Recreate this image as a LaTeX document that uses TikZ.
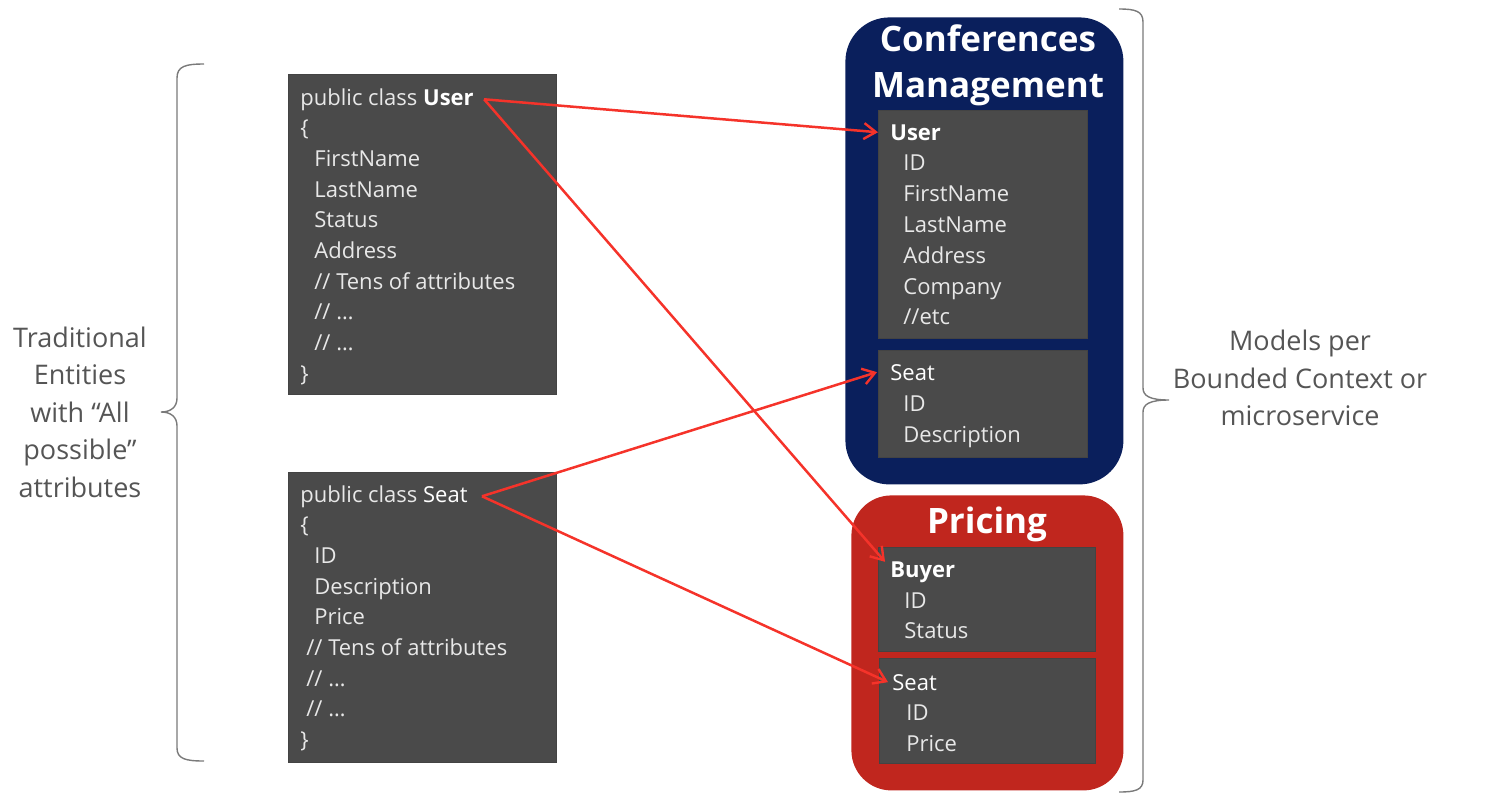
\documentclass[tikz,border=0pt]{standalone}
\usepackage{fontspec}
\setmainfont{Open Sans}
\usetikzlibrary{arrows.meta}
\definecolor{boxfill}{HTML}{4A4A4A}
\definecolor{boxtxt}{HTML}{E8E8E8}
\definecolor{cmblue}{HTML}{0A1F5C}
\definecolor{prred}{HTML}{C0261E}
\definecolor{arr}{HTML}{F5332A}
\definecolor{labgray}{HTML}{555555}
\definecolor{bracegray}{HTML}{7A7A7A}
\newcommand{\boxfont}{\fontsize{11}{15}\selectfont}
\newcommand{\labfont}{\fontsize{13.5}{18.75}\selectfont}
\newcommand{\ttlfont}{\fontsize{17.5}{23}\selectfont\bfseries}
\tikzset{
  ln/.style={anchor=base west, inner sep=0pt, text=boxtxt, font=\boxfont},
  bln/.style={ln, text=white, font=\boxfont\bfseries},
  darkbox/.style={anchor=north west, fill=boxfill, draw=boxfill!90!black, line width=0.4pt, inner sep=0pt},
  ctx/.style={anchor=north west, inner sep=0pt},
  lab/.style={align=center, text=labgray, font=\labfont, inner sep=0pt},
  brc/.style={draw=bracegray, line width=0.7pt},
  con/.style={draw=arr, line width=1.25pt, -{Straight Barb[length=6pt,width=8pt,line width=1.2pt]}}
}
\begin{document}
\begin{tikzpicture}[x=0.5pt,y=-0.5pt]
\useasboundingbox (0,0) rectangle (1492,804);

% context containers
\node (cm) [ctx, fill=cmblue, rounded corners=22pt, minimum width=139pt, minimum height=233.5pt] at (845,17) {};
\node (pr) [ctx, fill=prred, rounded corners=20pt, minimum width=136pt, minimum height=147.5pt] at (851,495) {};
\node (cmt) [align=center, text=white, font=\ttlfont, inner sep=0pt] at (988,65) {Conferences\\Management};
\node (prt) [text=white, font=\ttlfont, inner sep=0pt] at (987,524) {Pricing};

% boxes
\node (ubox) [darkbox, minimum width=134pt, minimum height=160pt] at (288,74) {};
\node (sbox) [darkbox, minimum width=134pt, minimum height=145pt] at (288,472) {};
\node (cmu) [darkbox, minimum width=104.5pt, minimum height=114pt] at (878,110) {};
\node (cms) [darkbox, minimum width=104.5pt, minimum height=53.5pt] at (878,350) {};
\node (prb) [darkbox, minimum width=108.5pt, minimum height=52pt] at (878,547) {};
\node (prs) [darkbox, minimum width=108pt, minimum height=52.5pt] at (879,658) {};

% User class
\node (ut) [ln] at (300,105) {public class \textcolor{white}{\bfseries User}};
\node (u1) [ln] at (300,135.7) {\{};
\node (u2) [ln] at (314,166.3) {FirstName};
\node (u3) [ln] at (314,197) {LastName};
\node (u4) [ln] at (314,227.7) {Status};
\node (u5) [ln] at (314,258.3) {Address};
\node (u6) [ln] at (314,289) {// Tens of attributes};
\node (u7) [ln] at (314,319.7) {// …};
\node (u8) [ln] at (314,350.3) {// …};
\node (u9) [ln] at (300,381) {\}};

% Seat class
\node (st) [ln] at (300,502) {public class \textcolor{white}{Seat}};
\node (s1) [ln] at (300,532.7) {\{};
\node (s2) [ln] at (314,563.3) {ID};
\node (s3) [ln] at (314,594) {Description};
\node (s4) [ln] at (314,624.7) {Price};
\node (s5) [ln] at (306,655.3) {// Tens of attributes};
\node (s6) [ln] at (306,686) {// …};
\node (s7) [ln] at (306,716.7) {// …};
\node (s8) [ln] at (300,747.3) {\}};

% Conferences Management : User
\node (cu) [bln] at (890,140) {User};
\node (cu1) [ln] at (903,170.8) {ID};
\node (cu2) [ln] at (903,201.6) {FirstName};
\node (cu3) [ln] at (903,232.4) {LastName};
\node (cu4) [ln] at (903,263.2) {Address};
\node (cu5) [ln] at (903,294) {Company};
\node (cu6) [ln] at (903,324.8) {//etc};

% Conferences Management : Seat
\node (cs) [ln, text=white] at (890,380) {Seat};
\node (cs1) [ln] at (903,411) {ID};
\node (cs2) [ln] at (903,442) {Description};

% Pricing : Buyer
\node (pb) [bln] at (890,577) {Buyer};
\node (pb1) [ln] at (904,608) {ID};
\node (pb2) [ln] at (904,638) {Status};

% Pricing : Seat
\node (ps) [ln, text=white] at (892,690) {Seat};
\node (ps1) [ln] at (906,720) {ID};
\node (ps2) [ln] at (906,751) {Price};

% side labels
\node (ll) [lab] at (80,412) {Traditional\\Entities\\with “All\\possible”\\attributes};
\node (rl) [lab] at (1300,378) {Models per\\Bounded Context or\\microservice};

% braces
\draw[brc] (204,64) .. controls (186,64) and (177,66) .. (177,78) -- (177,398)
  .. controls (177,407) and (171,412) .. (161,412)
  .. controls (171,412) and (177,417) .. (177,426) -- (177,748)
  .. controls (177,759) and (186,761) .. (204,761);
\draw[brc] (1119,9) .. controls (1135,9) and (1143,11) .. (1143,22) -- (1143,388)
  .. controls (1143,396) and (1150,400) .. (1169,400)
  .. controls (1150,400) and (1143,404) .. (1143,412) -- (1143,780)
  .. controls (1143,790) and (1135,792) .. (1119,792);

% connectors
\draw[con] ([xshift=5pt]ut.east) -- ([xshift=-6pt]cu.west);
\draw[con] ([xshift=5pt]ut.east) -- ([shift={(-2.5pt,5pt)}]pb.west);
\draw[con] ([xshift=7pt]st.east) -- ([xshift=-6.5pt]cs.west);
\draw[con] ([xshift=7pt]st.east) -- ([xshift=-2pt]ps.west);
\end{tikzpicture}
\end{document}
